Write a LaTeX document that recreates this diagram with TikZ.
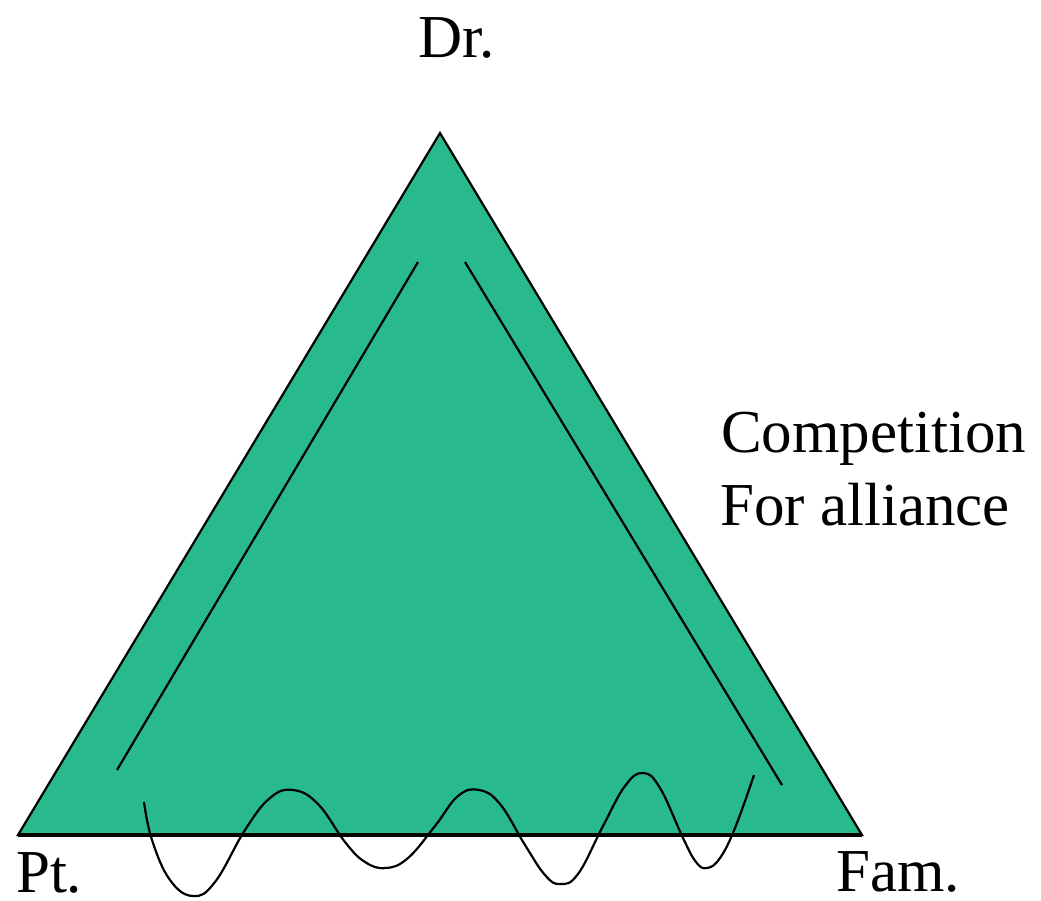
\documentclass[tikz,border=0pt]{standalone}
\usepackage{fontspec}
\setmainfont{Liberation Serif}
\usetikzlibrary{calc}
\definecolor{tealgreen}{RGB}{40,185,140}
\tikzset{
  lbl/.style={inner sep=0pt, font=\fontsize{61}{70}\selectfont},
}

\begin{document}
\begin{tikzpicture}[x=1pt, y=-1pt, line width=2.2pt]
    \useasboundingbox (0,0) rectangle (1041,900);

    % Corners
    \coordinate (dr) at (440,133);
    \coordinate (pt) at (18,835);
    \coordinate (fam) at (862,835);

    % Triangle
    \filldraw[fill=tealgreen] (dr) -- (fam) -- (pt) -- cycle;
    \draw[line width=4pt] (pt) -- (fam);

    % Alliance lines along the sides
    \draw (117,770) -- (418,262);
    \draw (465,262) -- (782,785);

    % Wavy line across the base
    \draw plot[smooth, tension=0.7] coordinates {
        (144,802) (152,840) (170,880) (193,896) (215,882) (245,830)
        (270,798) (293,790) (318,804) (345,842) (365,862) (386,868)
        (408,858) (435,826) (458,796) (479,790) (500,804) (525,845)
        (545,875) (560,884) (578,874) (603,826) (625,786) (643,773)
        (660,788) (683,838) (696,862) (707,868) (720,858) (735,828)
        (754,775)};

    % Labels
    \node[lbl, anchor=base] (drl) at (457,57) {Dr.};
    \node[lbl, anchor=base west] (ptl) at (15,892) {Pt.};
    \node[lbl, anchor=base west] (faml) at (835,891) {Fam.};
    \node[lbl, anchor=base west] (comp) at (720,452) {Competition};
    \node[lbl, anchor=base west] (alli) at (719,525) {For alliance};
\end{tikzpicture}
\end{document}
